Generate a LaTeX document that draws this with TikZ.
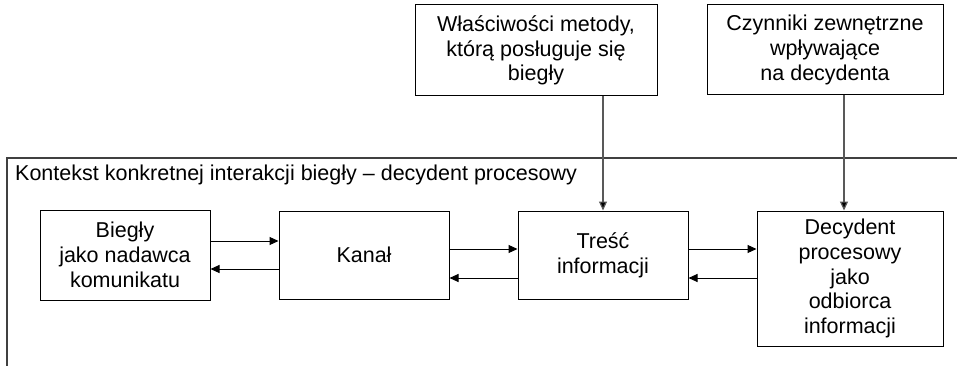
\documentclass[tikz,border=0pt]{standalone}
\usepackage{fontspec}
\setmainfont{Liberation Sans}
\usetikzlibrary{arrows.meta}
\tikzset{
  box/.style={draw=black, line width=1pt, align=center, inner sep=0pt,
    font=\fontsize{21.5}{24.7}\selectfont},
  arr/.style={draw=black, line width=1pt, -{Triangle[length=9pt,width=8pt]}},
  varr/.style={draw=black!65, line width=1.2pt, -{Triangle[length=9pt,width=8pt,fill=black]}},
  frame/.style={draw=black!75, line width=1.2pt},
  lbl/.style={inner sep=0pt, anchor=base west, font=\fontsize{21.5}{24.7}\selectfont}
}
\begin{document}
\begin{tikzpicture}[x=1pt,y=-1pt]
\useasboundingbox (0,0) rectangle (957,366);
% frame
\coordinate (fb) at (7,366);
\coordinate (ft) at (7,158);
\coordinate (fr) at (957,158);
\draw[frame] (fb) -- (ft) -- (fr);
\node[lbl] (ctx) at (15,180) {Kontekst konkretnej interakcji biegły – decydent procesowy};
% top boxes
\node[box, minimum width=242pt, minimum height=91pt] (m1) at (536,50.5)
  {Właściwości metody,\\którą posługuje się\\biegły};
\node[box, minimum width=236pt, minimum height=90pt] (m2) at (825,50)
  {Czynniki zewnętrzne\\wpływające\\na decydenta};
% main row
\node[box, minimum width=170pt, minimum height=90pt] (b) at (125,255)
  {Biegły\\jako nadawca\\komunikatu};
\node[box, minimum width=170pt, minimum height=88pt] (k) at (364,255) {Kanał};
\node[box, minimum width=170pt, minimum height=88pt] (t) at (603,255)
  {Treść\\informacji};
\node[box, minimum width=186pt, minimum height=135pt] (d) at (850,278.5)
  {Decydent\\procesowy\\jako\\odbiorca\\informacji};
% horizontal arrows
\draw[arr] (b.east |- 0,241) -- (k.west |- 0,241);
\draw[arr] (k.west |- 0,269) -- (b.east |- 0,269);
\draw[arr] (k.east |- 0,249) -- (t.west |- 0,249);
\draw[arr] (t.west |- 0,278) -- (k.east |- 0,278);
\draw[arr] (t.east |- 0,249) -- (d.west |- 0,249);
\draw[arr] (d.west |- 0,278) -- (t.east |- 0,278);
% vertical arrows
\draw[varr] (m1.south -| t.north) -- (t.north);
\draw[varr] (m2.south -| 844,0) -- (d.north -| 844,0);
\end{tikzpicture}
\end{document}
